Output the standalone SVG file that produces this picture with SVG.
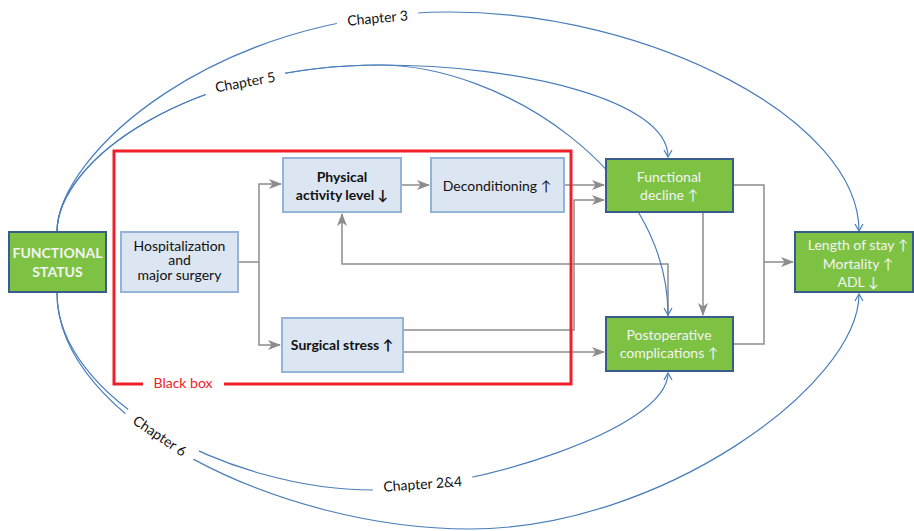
<svg xmlns="http://www.w3.org/2000/svg" width="914" height="531" viewBox="0 0 914 531">
<style>
text{font-family:Lato,"Liberation Sans",sans-serif;font-size:14px;text-anchor:middle}
.lb{fill:#DCE6F2;stroke:#95B3D7;stroke-width:2}
.gr{fill:#7DC242;stroke:#385D8A;stroke-width:2}
.tk{fill:#111}
.tw{fill:#F4F4F4}
.b{font-weight:bold}
.g{fill:none;stroke:#8C8C8C;stroke-width:1.5}
.c{fill:none;stroke:#4A7EBB;stroke-width:1.2}
.lab{fill:#111}
</style>
<defs>
<marker id="ga" markerWidth="13" markerHeight="10" refX="12" refY="5" orient="auto" markerUnits="userSpaceOnUse"><path d="M0,0 L13,5 L0,10 L3.5,5 z" fill="#8C8C8C"/></marker>
<marker id="ba" markerWidth="10" markerHeight="10" refX="8" refY="5" orient="auto" markerUnits="userSpaceOnUse"><path d="M1,1 L8,5 L1,9" fill="none" stroke="#4A7EBB" stroke-width="1.2"/></marker>
</defs>
<rect width="914" height="531" fill="#fff"/>

<g id="connectors">
<path class="g" d="M238,262 H259"/>
<path class="g" d="M259,262 V184 H281" marker-end="url(#ga)"/>
<path class="g" d="M259,262 V345 H280" marker-end="url(#ga)"/>
<path class="g" d="M401,185 H429" marker-end="url(#ga)"/>
<path class="g" d="M564,185 H604" marker-end="url(#ga)"/>
<path class="g" d="M403,330 H574 V200 H604" marker-end="url(#ga)"/>
<path class="g" d="M403,352 H604" marker-end="url(#ga)"/>
<path class="g" d="M668,317 V264 H342 V214" marker-end="url(#ga)"/>
<path class="g" d="M703,213 V315" marker-end="url(#ga)"/>
<path class="g" d="M734,185 H764 V344 H734"/>
<path class="g" d="M764,262 H793" marker-end="url(#ga)"/>

<path class="c" marker-end="url(#ba)" d="M57,232 C57,155 215,12 450,12 C650,12 859,120 859,231"/>
<path class="c" marker-end="url(#ba)" d="M57,232 C57,160 190,65 380,65 C520,65 668,100 668,157"/>
<path class="c" marker-end="url(#ba)" d="M57,232 C57,160 190,65 380,65 C500,65 668,170 668,315"/>
<path class="c" marker-end="url(#ba)" d="M57,293 C57,400 230,490 373,490 C470,490 668,430 668,373"/>
<path class="c" marker-end="url(#ba)" d="M57,293 C57,420 280,529 470,529 C660,529 859,385 859,294"/>

<g transform="translate(378,23) rotate(-5)"><rect x="-41" y="-15" width="82" height="20" fill="#fff"/><text class="lab" x="0" y="0">Chapter 3</text></g>
<g transform="translate(246,87) rotate(-10.5)"><rect x="-41" y="-15" width="82" height="20" fill="#fff"/><text class="lab" x="0" y="0">Chapter 5</text></g>
<g transform="translate(157,440) rotate(34)"><rect x="-41" y="-15" width="82" height="20" fill="#fff"/><text class="lab" x="0" y="0">Chapter 6</text></g>
<g transform="translate(423,489) rotate(-4)"><rect x="-50" y="-15" width="100" height="20" fill="#fff"/><text class="lab" x="0" y="0">Chapter 2&amp;4</text></g>
</g>

<g id="blackbox">
<rect x="114" y="151" width="457" height="233" fill="none" stroke="#F0202A" stroke-width="3"/>
<rect x="143" y="378" width="81" height="12" fill="#fff"/>
<text x="183" y="388" fill="#F0202A">Black box</text>
</g>

<g id="functional-status">
<rect class="gr" x="9" y="232" width="97" height="60"/>
<text class="tw b" x="57.5" y="258" font-size="13">FUNCTIONAL</text>
<text class="tw b" x="57.5" y="277" font-size="13">STATUS</text>
</g>
<g id="hospitalization">
<rect class="lb" x="121" y="232" width="117" height="60"/>
<text class="tk" x="179.5" y="250.5">Hospitalization</text>
<text class="tk" x="179.5" y="265">and</text>
<text class="tk" x="179.5" y="279.5">major surgery</text>
</g>
<g id="physical-activity">
<rect class="lb" x="283" y="158" width="118" height="54"/>
<text class="tk b" x="342" y="182">Physical</text>
<text class="tk b" x="342" y="200">activity level ↓</text>
</g>
<g id="deconditioning">
<rect class="lb" x="431" y="158" width="133" height="54"/>
<text class="tk" x="497" y="191">Deconditioning ↑</text>
</g>
<g id="surgical-stress">
<rect class="lb" x="282" y="318" width="121" height="54"/>
<text class="tk b" x="342" y="350">Surgical stress ↑</text>
</g>
<g id="functional-decline">
<rect class="gr" x="606" y="159" width="127" height="53"/>
<text class="tw" x="669" y="182">Functional</text>
<text class="tw" x="669" y="200">decline ↑</text>
</g>
<g id="postoperative-complications">
<rect class="gr" x="606" y="317" width="127" height="54"/>
<text class="tw" x="669" y="340">Postoperative</text>
<text class="tw" x="669" y="358">complications ↑</text>
</g>
<g id="outcomes">
<rect class="gr" x="795" y="232" width="118" height="60"/>
<text class="tw" x="858" y="250">Length of stay ↑</text>
<text class="tw" x="858" y="269">Mortality ↑</text>
<text class="tw" x="858" y="287">ADL ↓</text>
</g>
</svg>
